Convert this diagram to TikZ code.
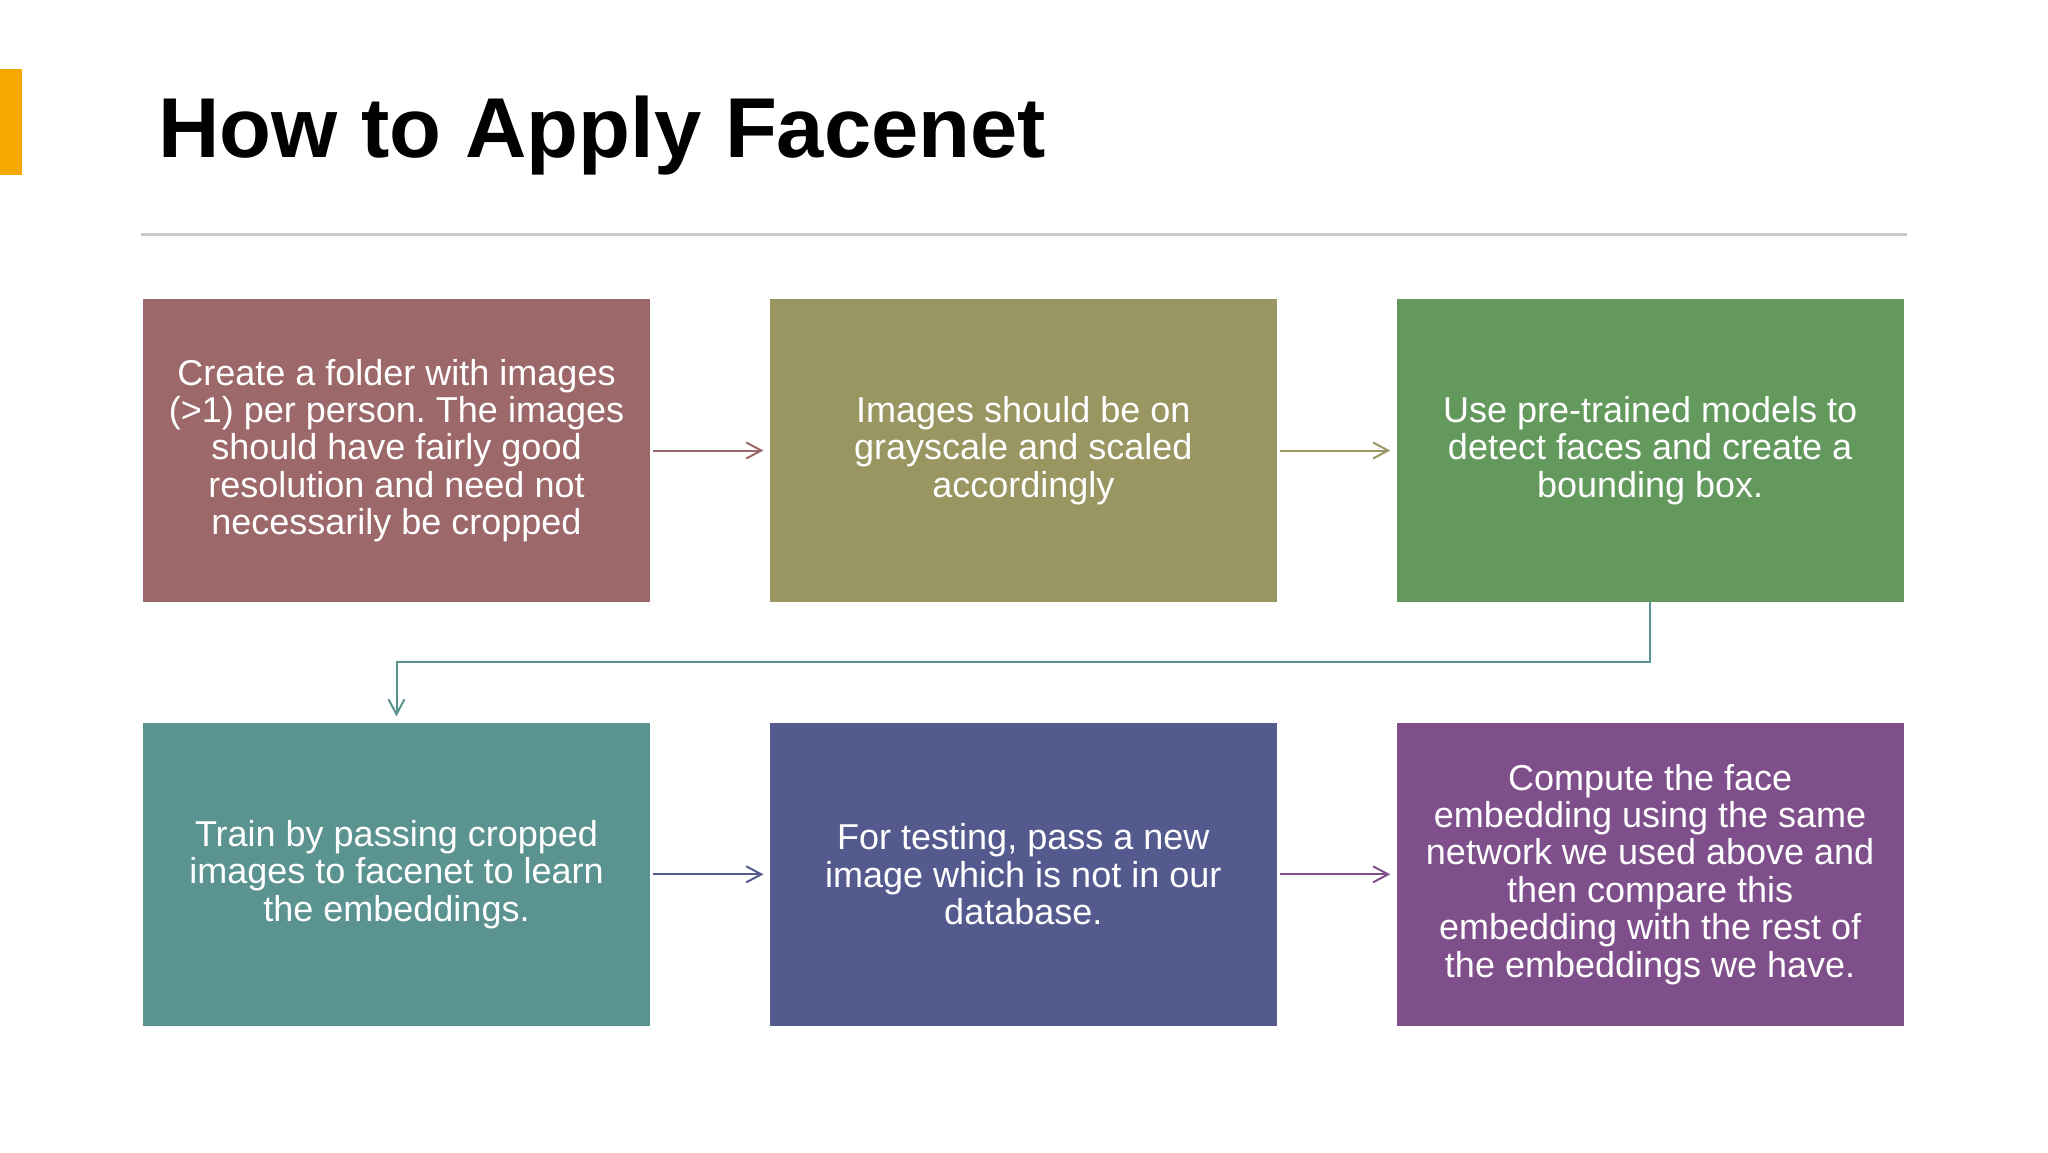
\documentclass[tikz,border=0pt]{standalone}
\usepackage{fontspec}
\setmainfont{Liberation Sans}
\frenchspacing
\usetikzlibrary{positioning,arrows.meta}

\definecolor{stepA}{HTML}{9C686A}
\definecolor{stepB}{HTML}{999662}
\definecolor{stepC}{HTML}{64995E}
\definecolor{stepD}{HTML}{5A9390}
\definecolor{stepE}{HTML}{545A8E}
\definecolor{stepF}{HTML}{7F4F8B}
\definecolor{accent}{HTML}{F5A800}
\definecolor{rulegray}{HTML}{C8C8C8}

\tikzset{
  stepbox/.style={rectangle, minimum width=253.5pt, minimum height=151.5pt,
    inner sep=0pt, align=center, text=white,
    font=\fontsize{18}{18.7}\selectfont},
  flow/.style={line width=1pt, -{Straight Barb[length=7.5pt,width=8pt]},
    shorten <=1.5pt, shorten >=3pt},
}

\begin{document}
\begin{tikzpicture}[x=0.5pt,y=-0.5pt, node distance=59.5pt and 59.5pt]
\fill[white] (0,0) rectangle (2048,1152);
\useasboundingbox (0,0) rectangle (2048,1152);
\fill[accent] (0,69) rectangle (22,175);
\node[anchor=base west, inner sep=0pt, font=\fontsize{42.5}{48}\selectfont\bfseries] (title) at (158,157) {How to Apply Facenet};
\draw[rulegray, line width=1.5pt] (141,234) -- (1907,234);

\node[stepbox, fill=stepA] (load) at (396.5,450.5) {Create a folder with images\\(>1) per person. The images\\should have fairly good\\resolution and need not\\necessarily be cropped};
\node[stepbox, fill=stepB, right=of load] (gray) {Images should be on\\grayscale and scaled\\accordingly};
\node[stepbox, fill=stepC, right=of gray] (detect) {Use pre-trained models to\\detect faces and create a\\bounding box.};
\node[stepbox, fill=stepD, below=60pt of load] (train) {Train by passing cropped\\images to facenet to learn\\the embeddings.};
\node[stepbox, fill=stepE, right=of train] (test) {For testing, pass a new\\image which is not in our\\database.};
\node[stepbox, fill=stepF, right=of test] (compare) {Compute the face\\embedding using the same\\network we used above and\\then compare this\\embedding with the rest of\\the embeddings we have.};

\draw[flow, stepA] (load) -- (gray);
\draw[flow, stepB] (gray) -- (detect);
\draw[flow, stepD, shorten <=0pt] (detect.south) -- ++(0,60) -| (train.north);
\draw[flow, stepE] (train) -- (test);
\draw[flow, stepF] (test) -- (compare);
\end{tikzpicture}
\end{document}
